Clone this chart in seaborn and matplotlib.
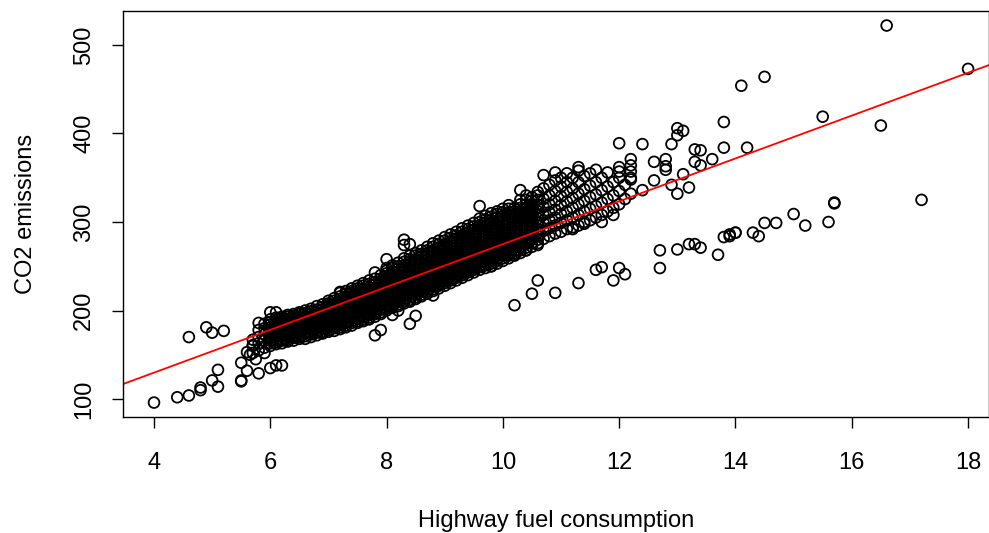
import numpy as np
import pandas as pd
import matplotlib
matplotlib.use("Agg")
import matplotlib.pyplot as plt
import seaborn as sns

# ---------------- data ----------------
# dense main band: highway consumption levels and the CO2 values seen at each level
band_hwy_levels = [5.7, 5.8, 5.9, 6.0, 6.1, 6.2, 6.3, 6.4, 6.5, 6.6, 6.7, 6.8, 6.9,
                   7.0, 7.1, 7.2, 7.3, 7.4, 7.5, 7.6, 7.7, 7.8, 7.9,
                   8.0, 8.1, 8.2, 8.3, 8.4, 8.5, 8.6, 8.7, 8.8, 8.9,
                   9.0, 9.1, 9.2, 9.3, 9.4, 9.5, 9.6, 9.7, 9.8, 9.9,
                   10.0, 10.1, 10.2, 10.3, 10.4, 10.5, 10.6, 10.7, 10.8, 10.9,
                   11.0, 11.1, 11.2, 11.3, 11.4, 11.5, 11.6, 11.7, 11.8, 11.9,
                   12.0, 12.1, 12.2]
band_co2_groups = [
    [152, 160, 167], [155, 163, 170, 178], [158, 166, 173, 180],
    [160, 166, 172, 178, 184, 190], [162, 167, 172, 177, 182, 187, 192],
    [163, 168, 173, 178, 183, 188, 193], [165, 170, 175, 180, 185, 190, 195],
    [166, 171, 176, 181, 186, 191, 196], [168, 173, 178, 183, 188, 193, 198],
    [168, 174, 179, 184, 189, 194, 200], [170, 175, 180, 185, 190, 196, 202],
    [172, 177, 182, 187, 192, 198, 205], [174, 179, 184, 189, 195, 201, 207],
    [176, 181, 186, 191, 196, 201, 206, 211], [177, 182, 187, 192, 197, 202, 208, 214],
    [179, 184, 189, 194, 199, 204, 210, 216, 221], [181, 186, 191, 196, 201, 206, 211, 216, 222],
    [183, 188, 193, 198, 203, 208, 213, 219, 225], [186, 191, 196, 201, 206, 211, 216, 222, 228],
    [188, 193, 198, 203, 208, 213, 218, 224, 231], [190, 195, 200, 205, 210, 215, 220, 226, 234],
    [193, 198, 203, 208, 213, 218, 223, 229, 236], [196, 201, 206, 211, 216, 221, 226, 232, 240],
    [200, 205, 210, 215, 220, 225, 230, 236, 242, 248],
    [203, 208, 213, 218, 223, 228, 233, 238, 244, 251],
    [205, 210, 215, 220, 225, 230, 235, 241, 247, 254],
    [208, 213, 218, 223, 228, 233, 238, 244, 251, 259],
    [210, 215, 220, 225, 230, 236, 242, 248, 255, 262],
    [213, 218, 223, 228, 233, 239, 245, 251, 258, 265],
    [216, 221, 226, 231, 236, 242, 248, 254, 261, 268],
    [219, 224, 229, 234, 240, 246, 252, 258, 265, 272],
    [222, 227, 232, 237, 243, 249, 255, 261, 268, 276],
    [225, 230, 235, 240, 246, 252, 258, 264, 271, 279],
    [228, 233, 238, 244, 250, 256, 262, 268, 275, 283],
    [231, 236, 241, 247, 253, 259, 265, 271, 278, 286],
    [234, 239, 244, 250, 256, 262, 268, 274, 281, 289],
    [237, 242, 247, 253, 259, 265, 271, 277, 285, 293],
    [240, 245, 250, 256, 262, 268, 274, 280, 288, 296],
    [243, 248, 253, 259, 265, 271, 277, 284, 291, 299],
    [246, 251, 257, 263, 269, 275, 281, 288, 296, 304],
    [248, 254, 260, 266, 272, 278, 284, 291, 299, 307],
    [250, 256, 262, 268, 274, 280, 287, 294, 302, 310],
    [253, 259, 265, 271, 277, 283, 290, 297, 305, 312],
    [256, 262, 268, 274, 280, 286, 292, 299, 307, 315],
    [259, 265, 271, 277, 283, 289, 296, 303, 311, 319],
    [262, 268, 274, 280, 286, 293, 300, 308, 316],
    [265, 272, 279, 286, 293, 300, 308, 316, 325],
    [268, 275, 282, 289, 296, 304, 312, 320, 330],
    [272, 280, 288, 296, 304, 312, 320, 328],
    [276, 284, 292, 300, 308, 316, 325, 334],
    [281, 290, 299, 308, 317, 326, 338],
    [284, 293, 302, 311, 320, 330, 342],
    [287, 296, 305, 314, 324, 335, 347],
    [289, 299, 309, 319, 329, 340, 350],
    [292, 302, 312, 323, 334, 345],
    [294, 305, 316, 327, 338, 350],
    [296, 308, 320, 332, 345, 358],
    [300, 312, 324, 337, 352],
    [302, 315, 328, 341, 355],
    [305, 318, 331, 345],
    [308, 322, 336, 350],
    [312, 326, 340, 356],
    [316, 330, 345],
    [320, 335, 350, 362],
    [326, 342],
    [332, 348],
]

# further vehicles in the dense core (same consumption levels, other CO2 values)
core_hwy_levels = [6.0, 6.1, 6.2, 6.3, 6.4, 6.5, 6.6, 6.7, 6.8, 6.9,
                   7.0, 7.1, 7.2, 7.3, 7.4, 7.5, 7.6, 7.7, 7.8, 7.9,
                   8.0, 8.1, 8.2, 8.3, 8.4, 8.5, 8.6, 8.7, 8.8, 8.9,
                   9.0, 9.1, 9.2, 9.3, 9.4, 9.5, 9.6, 9.7, 9.8, 9.9,
                   10.0, 10.1, 10.2, 10.3, 10.4, 10.5, 10.6]
core_co2_groups = [
    [163, 169, 175, 181, 187], [164, 170, 175, 180, 185, 190],
    [166, 171, 176, 181, 186, 191], [167, 172, 177, 182, 188, 193],
    [169, 174, 179, 184, 189, 194], [170, 176, 181, 186, 191, 196],
    [171, 176, 181, 187, 192, 197], [173, 178, 183, 188, 193, 199],
    [175, 180, 185, 190, 195, 201], [176, 181, 187, 192, 198, 204],
    [178, 183, 188, 194, 199, 204, 208], [180, 185, 190, 195, 200, 205, 211],
    [181, 186, 192, 197, 202, 207, 213], [183, 188, 193, 198, 204, 209, 214, 219],
    [186, 191, 196, 201, 206, 211, 216, 222], [188, 193, 198, 204, 209, 214, 219, 225],
    [190, 196, 201, 206, 211, 216, 221, 228], [192, 198, 203, 208, 213, 218, 223, 230],
    [196, 201, 206, 211, 216, 221, 226, 232], [198, 203, 208, 213, 218, 224, 229, 236],
    [202, 207, 212, 218, 223, 228, 233, 239, 245], [205, 210, 216, 221, 226, 231, 236, 241, 248],
    [207, 212, 218, 223, 228, 233, 238, 244, 250], [210, 216, 221, 226, 231, 236, 241, 247, 255],
    [212, 218, 223, 228, 233, 239, 245, 252, 258], [215, 221, 226, 231, 236, 242, 248, 255, 262],
    [218, 224, 229, 234, 239, 245, 251, 258, 264], [221, 227, 232, 237, 243, 249, 255, 262, 268],
    [224, 230, 235, 240, 246, 252, 258, 265, 272], [228, 233, 238, 243, 249, 255, 261, 268, 275],
    [231, 236, 241, 247, 253, 259, 265, 272, 279], [234, 239, 244, 250, 256, 262, 268, 275, 282],
    [237, 242, 247, 253, 259, 265, 271, 278, 285], [240, 245, 250, 256, 262, 268, 274, 281, 289],
    [243, 248, 253, 259, 265, 271, 277, 284, 292], [246, 251, 256, 262, 268, 274, 281, 288, 295],
    [249, 254, 260, 266, 272, 278, 285, 292, 300], [251, 257, 263, 269, 275, 281, 288, 295, 303],
    [253, 259, 265, 271, 277, 284, 291, 298, 306], [256, 262, 268, 274, 280, 287, 294, 301, 309],
    [259, 265, 271, 277, 283, 289, 296, 303, 311], [262, 268, 274, 280, 286, 293, 300, 307, 315],
    [265, 271, 277, 283, 290, 297, 304, 312], [268, 275, 282, 289, 296, 304, 312, 320],
    [271, 278, 286, 293, 300, 308, 316, 325], [276, 284, 292, 300, 308, 316, 324],
    [280, 288, 296, 304, 312, 320, 330],
]

# small-car group at the lower left
low_hwy = [4.0, 4.4, 4.6, 4.8, 4.8, 5.0, 5.1, 5.1, 4.6, 4.9, 5.0, 5.2, 5.5, 5.5,
           5.5, 5.6, 5.8, 6.0, 6.1, 6.2, 5.6, 5.8, 5.9, 6.0, 6.1, 5.7, 5.65, 5.75, 5.9]
low_co2 = [96, 102, 104, 110, 113, 121, 114, 133, 170, 181, 175, 177, 121, 120,
           141, 132, 129, 135, 138, 138, 153, 186, 185, 198, 198, 161, 150, 145, 152]

# scattered points around the band
edge_hwy = [7.2, 7.8, 8.0, 8.3, 8.3, 8.4, 9.6, 10.3, 10.7, 10.9, 11.1, 11.3, 11.6,
            7.8, 7.9, 8.1, 8.5, 8.4, 8.2, 8.8, 9.8, 10.1, 10.2, 10.4, 10.6,
            11.2, 11.4, 11.7, 11.9, 12.0, 12.0, 12.2, 12.2, 12.2, 12.2, 12.4, 12.4,
            12.6, 12.6, 12.8, 12.8, 12.8, 12.9, 12.9, 13.0, 13.0, 13.0, 13.1, 13.1,
            13.2, 13.3, 13.3, 13.4, 13.4, 13.6, 13.8, 13.8, 14.2, 14.1, 14.5,
            15.5, 16.5, 16.6, 18.0]
edge_co2 = [220, 243, 258, 280, 274, 275, 318, 336, 353, 356, 355, 362, 359,
            172, 178, 195, 194, 185, 200, 217, 250, 263, 263, 268, 274,
            292, 298, 300, 308, 357, 389, 371, 364, 357, 350, 336, 388,
            368, 347, 371, 363, 359, 342, 388, 406, 398, 332, 403, 354,
            339, 382, 368, 364, 381, 371, 413, 384, 384, 454, 464,
            419, 409, 522, 473]

# lower branch (alternative-fuel vehicles)
alt_hwy = [10.2, 10.5, 10.6, 10.9, 11.3, 11.6, 11.7, 11.9, 12.0, 12.1, 12.7, 12.7,
           13.0, 13.2, 13.3, 13.4, 13.7, 13.8, 13.9, 13.9, 14.0, 14.0, 14.3, 14.4,
           14.5, 14.7, 15.0, 15.2, 15.6, 15.7, 15.7, 17.2]
alt_co2 = [206, 219, 234, 220, 231, 246, 249, 234, 248, 241, 268, 248,
           269, 275, 275, 271, 263, 283, 284, 286, 288, 288, 288, 284,
           299, 299, 309, 296, 300, 322, 321, 325]

# fitted regression line
fit_intercept = 33.0
fit_slope = 24.2

x_ticks = [4, 6, 8, 10, 12, 14, 16, 18]
y_ticks = [100, 200, 300, 400, 500]
x_label = "Highway fuel consumption"
y_label = "CO2 emissions"

# ---------------- build table ----------------
def flatten(levels, groups):
    xs = [h for h, g in zip(levels, groups) for _ in g]
    ys = [v for g in groups for v in g]
    return xs, ys

band_hwy, band_co2 = flatten(band_hwy_levels, band_co2_groups)
core_hwy, core_co2 = flatten(core_hwy_levels, core_co2_groups)
df = pd.DataFrame({
    "hwy": band_hwy + core_hwy + low_hwy + edge_hwy + alt_hwy,
    "co2": band_co2 + core_co2 + low_co2 + edge_co2 + alt_co2,
})

# ---------------- plot ----------------
sns.set_style("ticks")
plt.rcParams["font.family"] = ["Liberation Sans", "DejaVu Sans"]
plt.rcParams["text.color"] = "black"
plt.rcParams["axes.labelcolor"] = "black"

W, H = 989, 533
fig = plt.figure(figsize=(W / 100, H / 100), dpi=100)
ax = fig.add_axes([123 / W, (H - 417) / H, (W - 123) / W, (417 - 11) / H])

sns.scatterplot(data=df, x="hwy", y="co2", ax=ax, marker="o", s=60,
                facecolor="none", edgecolor="black", linewidth=1.3, legend=False)
ax.axline((0, fit_intercept), slope=fit_slope, color="#ff0000", linewidth=1.3)

ax.set_xlim(3.467, 18.36)
ax.set_ylim(79.7, 538.4)
ax.set_xticks(x_ticks)
ax.set_yticks(y_ticks)
ax.set_xticklabels([str(t) for t in x_ticks])
ax.set_yticklabels([str(t) for t in y_ticks], rotation=90, va="center")
ax.tick_params(axis="both", direction="out", length=8, width=1.0, labelsize=17,
               color="black", labelcolor="black")
ax.tick_params(axis="x", pad=17)
ax.tick_params(axis="y", pad=12)
for sp in ax.spines.values():
    sp.set_visible(True)
    sp.set_linewidth(1.0)
    sp.set_color("black")

ax.set_xlabel(x_label, fontsize=17, labelpad=26, color="black")
ax.set_ylabel(y_label, fontsize=17, labelpad=26, color="black")
ax.grid(False)

fig.savefig("out.png", dpi=100)
